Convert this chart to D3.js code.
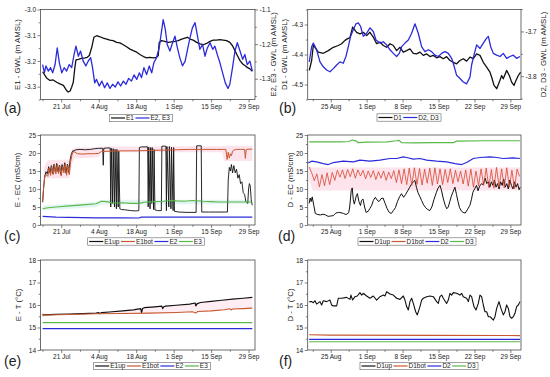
<!DOCTYPE html>
<html><head><meta charset="utf-8">
<script src="https://cdn.jsdelivr.net/npm/d3@7"></script>
<style>
body{margin:0;background:#fff}
svg text{font-family:"Liberation Sans",Arial,sans-serif;fill:#222}
</style></head>
<body><svg id="c" width="550" height="377"></svg>
<script>
// ---------------- DATA ----------------
// E panels: day offset from 14 Jul; D panels: day offset from 25 Aug
const eTickDays = [7,21,35,49,63,77];
const eTickLabels = ["21 Jul","4 Aug","18 Aug","1 Sep","15 Sep","29 Sep"];
const dTickDays = [0,7,14,21,28,35];
const dTickLabels = ["25 Aug","1 Sep","8 Sep","15 Sep","22 Sep","29 Sep"];

// (a) GWL
const gwlE1 = [[0.05,-3.242],[1.5,-3.266],[2.8,-3.276],[4.0,-3.274],[5.3,-3.283],[6.5,-3.289],[7.8,-3.295],[8.4,-3.305],[9.0,-3.315],[9.6,-3.321],[10.3,-3.317],[10.9,-3.302],[11.5,-3.283],[12.1,-3.225],[12.5,-3.196],[13.4,-3.194],[14.6,-3.19],[15.9,-3.188],[16.7,-3.186],[17.5,-3.179],[18.4,-3.147],[19.2,-3.108],[20.2,-3.102],[21.5,-3.106],[22.7,-3.111],[24.0,-3.115],[25.2,-3.119],[26.4,-3.121],[27.7,-3.128],[28.9,-3.13],[30.2,-3.137],[31.4,-3.145],[32.7,-3.154],[33.9,-3.16],[35.2,-3.166],[36.4,-3.175],[37.7,-3.183],[38.9,-3.188],[40.1,-3.186],[41.4,-3.188],[42.6,-3.186],[43.25,-3.179],[43.6,-3.128],[44.5,-3.121],[45.7,-3.124],[47.0,-3.128],[48.2,-3.126],[49.5,-3.124],[50.7,-3.121],[52.0,-3.115],[53.2,-3.111],[54.1,-3.108],[55.1,-3.115],[56.3,-3.119],[57.6,-3.128],[58.8,-3.134],[60.1,-3.137],[61.3,-3.132],[62.6,-3.124],[63.8,-3.119],[65.0,-3.119],[66.3,-3.117],[67.5,-3.119],[68.8,-3.121],[70.0,-3.128],[71.0,-3.141],[71.9,-3.16],[72.8,-3.179],[73.8,-3.199],[74.8,-3.212],[75.6,-3.218],[76.5,-3.225],[77.5,-3.231],[78.4,-3.24]];
const gwlE23 = [[0.05,-1.259],[0.7,-1.283],[1.3,-1.263],[2.2,-1.278],[3.0,-1.268],[3.8,-1.283],[4.7,-1.259],[5.5,-1.211],[6.3,-1.254],[7.2,-1.283],[8.1,-1.268],[9.0,-1.278],[10.0,-1.259],[10.9,-1.268],[11.8,-1.23],[12.5,-1.206],[13.4,-1.235],[14.2,-1.22],[15.2,-1.249],[16.2,-1.263],[17.1,-1.249],[18.0,-1.239],[18.7,-1.268],[19.5,-1.312],[20.2,-1.302],[21.2,-1.321],[22.2,-1.307],[23.2,-1.326],[24.2,-1.312],[25.2,-1.328],[26.2,-1.316],[27.2,-1.324],[28.2,-1.309],[29.2,-1.321],[30.2,-1.307],[31.2,-1.316],[32.2,-1.299],[33.2,-1.307],[34.2,-1.289],[35.2,-1.302],[36.2,-1.283],[37.0,-1.297],[37.9,-1.268],[38.9,-1.288],[39.9,-1.263],[40.8,-1.283],[41.6,-1.254],[42.6,-1.239],[43.6,-1.211],[44.4,-1.167],[45.1,-1.129],[45.9,-1.158],[46.6,-1.201],[47.6,-1.22],[48.6,-1.196],[49.5,-1.177],[50.4,-1.211],[51.3,-1.239],[52.3,-1.263],[53.3,-1.249],[54.2,-1.215],[55.1,-1.182],[56.0,-1.153],[57.0,-1.138],[57.8,-1.172],[58.8,-1.215],[59.8,-1.201],[60.7,-1.235],[61.6,-1.211],[62.6,-1.196],[63.6,-1.215],[64.4,-1.206],[65.3,-1.23],[66.3,-1.254],[67.3,-1.283],[68.3,-1.312],[69.3,-1.328],[70.0,-1.316],[71.0,-1.268],[71.9,-1.22],[72.8,-1.196],[73.8,-1.22],[74.8,-1.244],[75.6,-1.23],[76.5,-1.259],[77.5,-1.249],[78.4,-1.278]];

// (b) GWL
const gwlD1 = [[-4.17,-4.453],[-3.71,-4.42],[-3.39,-4.37],[-3.06,-4.376],[-2.42,-4.392],[-1.44,-4.396],[-0.47,-4.387],[0.51,-4.376],[1.48,-4.37],[2.13,-4.364],[2.78,-4.353],[3.23,-4.348],[3.75,-4.344],[4.27,-4.309],[5.05,-4.326],[5.7,-4.331],[6.35,-4.326],[7.0,-4.337],[7.65,-4.326],[8.3,-4.342],[8.95,-4.364],[9.6,-4.359],[10.25,-4.37],[10.9,-4.376],[11.55,-4.364],[12.2,-4.37],[12.84,-4.387],[13.5,-4.376],[14.14,-4.392],[14.79,-4.387],[15.44,-4.381],[16.09,-4.396],[16.74,-4.398],[17.39,-4.392],[18.04,-4.403],[18.69,-4.398],[19.34,-4.407],[19.99,-4.403],[20.64,-4.411],[21.28,-4.407],[21.93,-4.414],[22.58,-4.407],[23.23,-4.42],[23.88,-4.426],[24.53,-4.431],[25.18,-4.42],[25.83,-4.414],[26.48,-4.422],[27.13,-4.409],[27.78,-4.414],[28.43,-4.398],[29.08,-4.403],[29.73,-4.426],[30.38,-4.442],[31.03,-4.459],[31.36,-4.476],[31.81,-4.503],[32.33,-4.514],[32.85,-4.492],[33.3,-4.47],[33.62,-4.481],[34.27,-4.453],[34.79,-4.47],[35.25,-4.492],[35.7,-4.503],[36.09,-4.487],[36.55,-4.47],[37.0,-4.459]];
const gwlD23 = [[-4.17,-3.768],[-3.71,-3.734],[-3.39,-3.726],[-2.74,-3.741],[-2.09,-3.768],[-1.44,-3.779],[-0.79,-3.786],[-0.14,-3.79],[0.51,-3.783],[1.16,-3.775],[1.81,-3.768],[2.45,-3.771],[2.97,-3.756],[3.43,-3.734],[3.88,-3.711],[4.4,-3.696],[4.92,-3.683],[5.38,-3.681],[5.83,-3.689],[6.35,-3.711],[7.0,-3.704],[7.65,-3.692],[8.3,-3.7],[8.82,-3.719],[9.6,-3.726],[10.25,-3.723],[10.9,-3.73],[11.55,-3.741],[12.2,-3.749],[12.84,-3.756],[13.36,-3.749],[13.82,-3.734],[14.47,-3.726],[15.12,-3.719],[15.77,-3.704],[16.42,-3.683],[17.06,-3.704],[17.71,-3.734],[18.36,-3.745],[19.01,-3.741],[19.66,-3.745],[20.31,-3.753],[20.96,-3.756],[21.61,-3.749],[22.26,-3.745],[22.91,-3.749],[23.56,-3.76],[24.08,-3.779],[24.53,-3.798],[25.18,-3.805],[25.83,-3.813],[26.48,-3.817],[27.13,-3.802],[27.45,-3.775],[27.91,-3.753],[28.43,-3.73],[29.08,-3.738],[29.73,-3.726],[30.38,-3.715],[30.71,-3.711],[31.16,-3.734],[31.68,-3.749],[32.33,-3.753],[32.99,-3.756],[33.62,-3.749],[34.27,-3.76],[34.92,-3.756],[35.57,-3.753],[36.22,-3.76],[36.87,-3.756]];

// (c) EC, E wells
const ecE1up = [[0.05,6.3],[0.4,10],[0.8,13.5],[1.3,14.8],[1.8,14.2],[2.3,16.2],[2.8,14.5],[3.3,16.5],[3.8,14.3],[4.3,16.9],[4.8,14.6],[5.3,17.1],[5.8,14.8],[6.3,16.6],[6.8,14.1],[7.3,16.8],[7.8,15],[8.3,17.3],[8.8,14.4],[9.3,16.9],[9.8,14.6],[10.3,18],[10.8,19.8],[11.3,20.6],[11.8,20.6],[12.5,20.9],[14,21.0],[16,20.9],[18,21.0],[19.5,21.2],[21,21.3],[22.5,21.3],[22.7,16.6],[22.9,21.3],[24,21.4],[25.3,21.4],[25.5,5.0],[25.7,21.3],[26.2,6.0],[26.4,21.2],[26.9,5.0],[27.1,21.0],[27.6,4.5],[27.8,21.0],[28.3,5.0],[28.5,20.5],[28.9,4.5],[29.5,4.3],[31,4.2],[33,4.0],[35,3.9],[36.0,4.0],[36.2,21.5],[37,21.7],[39.3,21.7],[39.5,5.0],[39.7,21.6],[40.2,4.5],[40.4,21.5],[40.8,6.0],[41.0,21.5],[41.5,4.3],[41.7,21.0],[42.0,4.2],[43,4.0],[44.4,4.0],[44.6,21.9],[45.5,21.9],[46.1,21.9],[46.3,4.0],[46.5,21.8],[47.2,5.0],[47.4,21.8],[48.0,4.5],[48.2,21.6],[48.8,4.0],[49.0,21.5],[49.3,3.8],[51,3.6],[54,3.5],[57.4,3.5],[57.6,22.0],[59.3,22.0],[59.5,3.6],[62,3.6],[66,3.6],[69.1,3.6],[69.4,12.5],[69.8,16.0],[70.2,15.0],[70.6,16.8],[71.0,14.5],[71.5,16.5],[72.0,14.5],[72.5,15.5],[73.0,13.0],[73.5,14.0],[74.0,11.5],[74.5,12.0],[75.0,9.0],[75.5,8.5],[76.0,6.5],[76.4,6.2],[76.7,6.0],[77.0,10.0],[77.3,11.5],[77.6,11.0],[78.0,7.0],[78.2,6.0],[78.4,5.5]];
const ecE1bot = [[0.05,6.6],[0.4,10.5],[0.8,13.2],[1.5,14],[2,13.5],[2.5,15.8],[3,13.8],[3.5,16.2],[4,14],[4.5,16.6],[5,14.2],[5.5,16.8],[6,14.3],[6.5,16.4],[7,13.6],[7.5,16.2],[8,14.5],[8.5,17],[9,13.8],[9.5,16.6],[10,14],[10.5,17.5],[11,19.5],[11.5,20.4],[12,20.3],[13,19.8],[15,19.7],[17,19.8],[19,19.8],[21,19.9],[22,20.4],[25,20.5],[30,20.6],[35,20.6],[40,20.7],[45,20.8],[50,20.9],[55,21.0],[60,21.0],[65,21.0],[68.5,21.0],[69,18.2],[69.4,20.2],[69.8,18.6],[70.2,19.8],[70.6,19.2],[71,20.5],[71.5,20.8],[72.5,21.0],[74,21.0],[75.5,21.0],[75.8,18.5],[76.1,21.0],[78.4,21.1]];
const ecE2 = [[0.05,2.4],[5,2.2],[10,2.1],[20,2.0],[30,2.0],[36,1.95],[37,2.2],[50,2.2],[60,2.2],[70,2.2],[78.4,2.2]];
const ecE3 = [[0.05,4.5],[2,4.8],[5,5.0],[10,5.3],[15,5.6],[20,5.9],[22,6.6],[24,6.5],[26,6.2],[28,6.1],[30,6.2],[33,6.0],[36,6.0],[38,6.3],[42,6.5],[45,6.6],[48,6.8],[50,6.7],[53,6.6],[56,6.8],[60,6.6],[63,6.5],[66,6.4],[70,6.4],[74,6.4],[78.4,6.4]];
const bandE1bot = [[0.5,12.5,16],[2,13,18],[10,13,18.2],[11,17,21],[12,18.5,21.5],[21,18.8,21.6],[22,20.2,21.8],[67,20.2,21.9],[68,17.8,22],[78.4,17.8,22]];
const bandE3 = [[0.05,4.0,5.4],[20,5.0,6.4],[22,5.6,7.0],[78.4,5.8,7.0]];

// (d) EC, D wells
const ecD1up = [[-4.2,6.0],[-4.0,7.5],[-3.8,6.5],[-3.6,7.8],[-3.3,5.5],[-3.0,3.2],[-2.5,2.9],[-2,2.8],[-1.5,3.0],[-1,2.8],[-0.5,2.4],[0,2.5],[0.5,2.6],[1,3.3],[1.5,3.5],[2,3.4],[2.5,3.2],[3,2.9],[3.5,3.4],[3.7,5],[4.0,9.5],[4.2,10.3],[4.4,7],[4.6,5.8],[5.0,8.2],[5.2,8.7],[5.5,6.5],[5.8,5.4],[6.0,6.8],[6.3,7.2],[6.6,5.0],[6.9,3.5],[7.3,3.8],[7.6,4.5],[8.0,5.5],[8.3,6.8],[8.7,7.7],[9.0,7.0],[9.4,6.5],[9.8,7.3],[10.2,7.5],[10.6,6.0],[11.0,4.5],[11.4,3.5],[11.8,3.2],[12.2,4.0],[12.6,4.8],[13.0,6.5],[13.4,7.8],[13.8,8.7],[14.2,7.7],[14.6,8.5],[15.0,9.5],[15.4,10.5],[15.8,11.5],[16.1,12.0],[16.4,12.4],[16.7,10.5],[17.0,9.0],[17.4,7.8],[17.7,6.8],[18.1,5.6],[18.5,4.8],[18.9,4.3],[19.3,4.0],[19.7,5.0],[20.1,7.0],[20.6,9.1],[20.9,10.2],[21.3,11.0],[21.6,9.5],[21.9,7.5],[22.3,5.5],[22.6,4.5],[22.9,5.0],[23.2,6.5],[23.5,8.0],[23.8,9.1],[24.2,10.5],[24.5,8.5],[24.8,6.5],[25.1,4.8],[25.5,3.8],[25.8,3.5],[26.2,3.3],[26.6,4.2],[27.1,5.4],[27.4,7.0],[27.7,9.1],[28.1,10.2],[28.4,11.0],[28.7,9.5],[29.0,10.8],[29.4,11.5],[29.7,11.2],[30.1,13.0],[30.4,11.5],[30.7,12.0],[31.0,10.5],[31.3,12.0],[31.6,11.0],[31.9,12.5],[32.2,10.5],[32.5,11.5],[32.8,10.0],[33.1,12.0],[33.4,11.0],[33.7,12.8],[34.0,10.5],[34.3,11.5],[34.6,10.0],[34.9,12.5],[35.2,11.0],[35.5,10.0],[35.8,12.0],[36.1,10.5],[36.4,11.5],[36.7,9.8],[36.9,10.5]];
const ecD1bot = [[-4.2,16.1],[-3.7,14.5],[-3.2,12.3],[-2.7,14.2],[-2.2,10.6],[-1.7,14.0],[-1.2,10.9],[-0.7,14.5],[-0.2,11.2],[0.3,14.6],[0.8,12.4],[1.3,15.2],[1.8,13.3],[2.3,15.3],[2.8,12.9],[3.3,15.4],[3.8,13.4],[4.3,15.6],[4.8,13.0],[5.3,15.3],[5.8,13.6],[6.3,15.2],[6.8,12.8],[7.3,15.0],[7.8,13.2],[8.3,15.1],[8.8,12.6],[9.3,14.8],[9.8,13.0],[10.3,15.0],[10.8,12.4],[11.3,14.7],[11.8,12.9],[12.3,15.1],[12.8,11.8],[13.3,15.3],[13.8,11.5],[14.3,15.6],[14.8,11.2],[15.3,15.8],[15.8,11.0],[16.3,15.9],[16.8,11.3],[17.3,15.7],[17.8,11.1],[18.3,15.5],[18.8,11.6],[19.3,15.8],[19.8,11.0],[20.3,15.9],[20.8,11.4],[21.3,15.6],[21.8,11.2],[22.3,15.4],[22.8,11.8],[23.3,15.6],[23.8,11.5],[24.3,15.2],[24.8,12.0],[25.3,15.0],[25.8,11.4],[26.3,15.3],[26.8,10.8],[27.3,15.5],[27.8,10.5],[28.3,15.0],[28.8,10.9],[29.3,15.6],[29.8,11.0],[30.3,15.8],[30.8,10.4],[31.3,15.4],[31.8,10.2],[32.3,16.0],[32.8,10.6],[33.3,15.6],[33.8,10.3],[34.3,15.9],[34.8,10.5],[35.3,15.2],[35.8,10.1],[36.3,15.5],[36.8,13.5]];
const ecD2 = [[-4.36,17.26],[-3.71,17.72],[-2.74,17.54],[-1.44,17.07],[-0.47,16.79],[0.51,17.35],[2.45,17.72],[4.4,17.54],[5.7,18.0],[7.65,17.72],[9.6,18.0],[11.55,18.47],[12.84,18.47],[14.14,18.94],[14.79,18.75],[16.09,18.28],[17.39,18.47],[18.69,18.0],[20.64,17.72],[22.58,17.54],[24.21,17.07],[25.51,16.79],[26.48,17.35],[27.78,18.47],[29.08,18.75],[31.03,18.94],[32.33,18.75],[33.62,18.47],[35.57,18.66],[36.87,18.47]];
const ecD3 = [[-4.2,23.1],[2,23.1],[3.5,23.2],[4.2,23.6],[5.0,23.3],[5.3,22.9],[7,23.0],[11,23.1],[12.8,23.4],[13.3,23.5],[13.8,22.9],[16,22.8],[20,22.9],[24,22.9],[24.5,23.3],[30,23.4],[36.9,23.4]];
const bandD1bot = [[-4.2,12.5,16.3],[-3.5,9.6,16.0],[36.9,9.6,16.0]];

// (e) temperature, E wells
const tE1up = [[0.05,15.56],[5,15.58],[10,15.6],[15,15.62],[20,15.64],[21,15.66],[21.4,15.62],[22,15.66],[25,15.69],[30,15.74],[34,15.78],[36.7,15.84],[37.0,15.66],[37.4,15.84],[38,15.88],[42,15.92],[44.6,15.95],[44.9,15.84],[45.3,15.92],[46,15.95],[50,15.99],[55,16.04],[57.0,16.09],[57.3,15.96],[57.7,16.05],[59,16.11],[63,16.16],[67,16.21],[71,16.26],[75,16.3],[78.4,16.34]];
const tE1bot = [[0.05,15.62],[0.3,15.52],[0.6,15.55],[5,15.57],[10,15.58],[20,15.61],[30,15.62],[40,15.64],[50,15.67],[56,15.7],[57.3,15.64],[58,15.71],[63,15.74],[68,15.79],[70,15.83],[70.5,15.78],[71,15.82],[75,15.84],[78.4,15.86]];
const tE2 = [[0.05,14.95],[78.4,14.95]];
const tE3 = [[0.05,15.22],[78.4,15.22]];
const bandTE = [[0.3,15.53,15.56],[20,15.6,15.65],[40,15.64,15.9],[60,15.72,16.12],[78.4,15.86,16.34]];

// (f) temperature, D wells
const tD1up = [[-4.17,16.15],[-3.71,16.15],[-3.39,16.1],[-3.06,16.19],[-2.74,16.04],[-2.09,16.15],[-1.77,16.0],[-1.44,16.19],[-0.79,16.15],[-0.14,16.22],[0.18,16.0],[0.51,15.96],[1.16,15.96],[1.48,16.3],[2.13,16.3],[3.1,16.34],[3.75,16.25],[3.95,16.44],[4.27,16.22],[4.73,16.37],[5.18,16.4],[5.7,16.55],[6.03,16.44],[6.35,16.52],[7.0,16.4],[7.65,16.3],[8.3,16.4],[8.95,16.22],[9.6,16.37],[10.25,16.44],[10.57,16.4],[10.9,16.59],[11.55,16.49],[12.2,16.44],[12.84,16.3],[13.49,16.25],[14.14,16.4],[14.47,16.22],[14.79,15.93],[15.12,15.78],[15.44,16.15],[15.77,16.3],[16.09,16.07],[16.55,15.7],[16.87,15.56],[17.39,15.93],[17.71,16.22],[18.04,16.3],[18.69,16.37],[19.34,16.4],[19.99,16.37],[20.64,16.15],[20.96,16.07],[21.28,16.37],[21.61,16.44],[21.93,16.3],[22.58,16.07],[22.91,16.22],[23.23,16.52],[23.56,16.44],[23.88,16.55],[24.53,16.52],[25.18,16.44],[25.51,16.52],[25.83,16.37],[26.48,16.3],[26.81,16.15],[27.13,16.44],[27.45,16.37],[27.91,15.93],[28.3,15.78],[28.75,16.07],[29.08,16.44],[29.4,16.37],[29.73,16.0],[30.05,15.7],[30.38,15.7],[30.71,15.48],[31.03,15.48],[31.36,15.41],[31.68,15.33],[32.0,15.48],[32.33,15.85],[32.78,16.15],[33.17,15.85],[33.62,15.56],[33.95,15.7],[34.27,16.0],[34.6,15.85],[34.92,15.48],[35.25,15.41],[35.57,15.48],[35.9,15.63],[36.22,15.93],[36.55,16.0],[36.87,16.15]];
const tD1bot = [[-4.2,14.68],[0,14.66],[20,14.65],[36.9,14.64]];
const tD2 = [[-4.2,14.47],[36.9,14.47]];
const tD3 = [[-4.2,14.37],[36.9,14.37]];

// ---------------- DRAWING ----------------
const svg = d3.select("#c");
const eStart = Date.UTC(2019,6,14), dStart = Date.UTC(2019,7,25);
const eT = d => new Date(eStart + d*864e5);
const dT = d => new Date(dStart + d*864e5);
const C = {k:"#111", b:"#2b2bdc", br:"#c8582f", g:"#58b848", pink:"#fde3ec", cyan:"#e3f5f3", ax:"#4a4a4a"};

const xE = d3.scaleUtc().domain([eT(-0.75), eT(79.4)]).range([40.5, 255]);
const xD = d3.scaleUtc().domain([dT(-4.48), dT(37.07)]).range([307.7, 521]);

let clipId = 0;
function makePanel(x, t, y0, y1) {
  const [xa, xb] = x.range();
  const id = "clip" + (clipId++);
  svg.append("clipPath").attr("id", id).append("rect")
    .attr("x", xa).attr("y", y0).attr("width", xb - xa).attr("height", y1 - y0);
  const g = svg.append("g").attr("clip-path", `url(#${id})`);
  return {g, xa, xb, y0, y1, x, t};
}
function frame(p) {
  svg.append("rect").attr("x", p.xa).attr("y", p.y0).attr("width", p.xb - p.xa).attr("height", p.y1 - p.y0)
    .attr("fill", "none").attr("stroke", C.ax).attr("stroke-width", 0.8);
}
function styleAxis(g) {
  g.select(".domain").remove();
  g.selectAll("line").attr("stroke", C.ax).attr("stroke-width", 0.7);
  g.selectAll("text").attr("font-size", "6.5px").attr("fill", "#222")
    .style("font-family", '"Liberation Sans",Arial,sans-serif');
}
function xAxis(p, tickDays, labels, minorDays) {
  const ax = d3.axisBottom(p.x).tickValues(tickDays.map(p.t)).tickSize(3).tickPadding(1.5)
    .tickFormat((d, i) => labels[i]);
  styleAxis(svg.append("g").attr("transform", `translate(0,${p.y1})`).call(ax));
  const mi = d3.axisBottom(p.x).tickValues(minorDays.map(p.t)).tickSize(1.8).tickFormat("");
  styleAxis(svg.append("g").attr("transform", `translate(0,${p.y1})`).call(mi));
}
function yAxis(y, xpos, side, ticks, minor, fmt) {
  const mk = side === "left" ? d3.axisLeft : d3.axisRight;
  const ax = mk(y).tickValues(ticks).tickSize(3).tickPadding(1.5).tickFormat(fmt);
  styleAxis(svg.append("g").attr("transform", `translate(${xpos},0)`).call(ax));
  if (minor) {
    const mi = mk(y).tickValues(minor).tickSize(1.8).tickFormat("");
    styleAxis(svg.append("g").attr("transform", `translate(${xpos},0)`).call(mi));
  }
}
function line(p, y, data, color, w) {
  const gen = d3.line().x(d => p.x(p.t(d[0]))).y(d => y(d[1]));
  p.g.append("path").datum(data).attr("d", gen).attr("fill", "none")
    .attr("stroke", color).attr("stroke-width", w).attr("stroke-linejoin", "round");
}
function band(p, y, data, color) {
  const gen = d3.area().x(d => p.x(p.t(d[0]))).y0(d => y(d[1])).y1(d => y(d[2]));
  p.g.append("path").datum(data).attr("d", gen).attr("fill", color).attr("stroke", "none");
}
function yTitle(x, yc, txt) {
  svg.append("text").attr("transform", `translate(${x},${yc}) rotate(-90)`)
    .attr("text-anchor", "middle").attr("dy", "0.35em").attr("font-size", "7.8px").attr("fill", "#333").text(txt);
}
function panelLabel(x, y, txt) {
  svg.append("text").attr("x", x).attr("y", y).attr("font-size", "14px").attr("fill", "#111").text(txt);
}
function legend(cx, cy, items) {
  const g = svg.append("g");
  let x = 0; const pad = 1.5, len = 14;
  items.forEach(it => {
    g.append("line").attr("x1", x + pad).attr("x2", x + pad + len).attr("y1", 0).attr("y2", 0)
      .attr("stroke", it[1]).attr("stroke-width", 1.2);
    const t = g.append("text").attr("x", x + pad + len + 1).attr("y", 0).attr("dy", "0.35em")
      .attr("font-size", "6.5px").attr("fill", "#222").text(it[0]);
    x = x + pad + len + 1 + t.node().getComputedTextLength();
  });
  x += pad + 1;
  g.insert("rect", ":first-child").attr("x", 0).attr("y", -3.7).attr("width", x).attr("height", 7.4)
    .attr("fill", "#fff").attr("stroke", "#666").attr("stroke-width", 0.6);
  g.attr("transform", `translate(${cx - x / 2},${cy})`);
}
const f1 = d => d.toFixed(1);
const f0 = d => d3.format("d")(d);
const eMinor = [0,14,28,42,56,70], dMinor = [-3.5,3.5,10.5,17.5,24.5,31.5];

// ---- (a)
{
  const p = makePanel(xE, eT, 9.5, 99.5);
  const yL = d3.scaleLinear().domain([-3.35, -3.0]).range([99.5, 9.5]);
  const yR = d3.scaleLinear().domain([-1.36, -1.1]).range([99.5, 9.5]);
  line(p, yL, gwlE1, C.k, 1.3);
  line(p, yR, gwlE23, C.b, 1.3);
  frame(p);
  xAxis(p, eTickDays, eTickLabels, eMinor);
  yAxis(yL, p.xa, "left", [-3.3,-3.2,-3.1,-3.0], [-3.35,-3.25,-3.15,-3.05], f1);
  yAxis(yR, p.xb, "right", [-1.3,-1.2,-1.1], [-1.35,-1.25,-1.15], f1);
  yTitle(17, 54.5, "E1 - GWL (m AMSL)");
  yTitle(273, 54.5, "E2, E3 - GWL (m AMSL)");
  legend(141, 118, [["E1", C.k], ["E2, E3", C.b]]);
  panelLabel(4, 113, "(a)");
}
// ---- (b)
{
  const p = makePanel(xD, dT, 9.5, 99.5);
  const yL = d3.scaleLinear().domain([-4.55, -4.25]).range([99.5, 9.5]);
  const yR = d3.scaleLinear().domain([-3.852, -3.651]).range([99.5, 9.5]);
  line(p, yL, gwlD1, C.k, 1.3);
  line(p, yR, gwlD23, C.b, 1.3);
  frame(p);
  xAxis(p, dTickDays, dTickLabels, dMinor);
  yAxis(yL, p.xa, "left", [-4.5,-4.4,-4.3], [-4.55,-4.45,-4.35,-4.25], f1);
  yAxis(yR, p.xb, "right", [-3.8,-3.7], [-3.85,-3.75,-3.65], f1);
  yTitle(284, 54.5, "D1 - GWL (m AMSL)");
  yTitle(543, 54.5, "D2, D3 - GWL (m AMSL)");
  legend(409, 117.5, [["D1", C.k], ["D2, D3", C.b]]);
  panelLabel(279, 113, "(b)");
}
// ---- (c)
{
  const p = makePanel(xE, eT, 135, 225);
  const y = d3.scaleLinear().domain([0, 25]).range([225, 135]);
  band(p, y, bandE1bot, C.pink);
  band(p, y, bandE3, C.cyan);
  line(p, y, ecE1up, C.k, 0.9);
  line(p, y, ecE1bot, C.br, 1.0);
  line(p, y, ecE2, C.b, 1.2);
  line(p, y, ecE3, C.g, 1.1);
  frame(p);
  xAxis(p, eTickDays, eTickLabels, eMinor);
  yAxis(y, p.xa, "left", [0,5,10,15,20,25], [2.5,7.5,12.5,17.5,22.5], f0);
  yTitle(17, 180, "E - EC (mS/cm)");
  legend(146, 241.5, [["E1up", C.k], ["E1bot", C.br], ["E2", C.b], ["E3", C.g]]);
  panelLabel(4, 241, "(c)");
}
// ---- (d)
{
  const p = makePanel(xD, dT, 135, 225);
  const y = d3.scaleLinear().domain([0, 25]).range([225, 135]);
  band(p, y, bandD1bot, C.pink);
  line(p, y, ecD1up, C.k, 1.0);
  line(p, y, ecD1bot, "#d8452e", 0.8);
  line(p, y, ecD2, C.b, 1.2);
  line(p, y, ecD3, C.g, 1.2);
  frame(p);
  xAxis(p, dTickDays, dTickLabels, dMinor);
  yAxis(y, p.xa, "left", [0,5,10,15,20,25], [2.5,7.5,12.5,17.5,22.5], f0);
  yTitle(290, 180, "D - EC (mS/cm)");
  legend(417, 241.5, [["D1up", C.k], ["D1bot", C.br], ["D2", C.b], ["D3", C.g]]);
  panelLabel(278, 241, "(d)");
}
// ---- (e)
{
  const p = makePanel(xE, eT, 260, 350);
  const y = d3.scaleLinear().domain([14, 18]).range([350, 260]);
  band(p, y, bandTE, "#feeef3");
  line(p, y, tE1up, C.k, 1.2);
  line(p, y, tE1bot, C.br, 1.1);
  line(p, y, tE2, C.b, 1.3);
  line(p, y, tE3, C.g, 1.2);
  frame(p);
  xAxis(p, eTickDays, eTickLabels, eMinor);
  yAxis(y, p.xa, "left", [14,15,16,17,18], [14.5,15.5,16.5,17.5], f0);
  yTitle(18, 305, "E - T (°C)");
  legend(152, 366, [["E1up", C.k], ["E1bot", C.br], ["E2", C.b], ["E3", C.g]]);
  panelLabel(4, 366, "(e)");
}
// ---- (f)
{
  const p = makePanel(xD, dT, 260, 350);
  const y = d3.scaleLinear().domain([14, 18]).range([350, 260]);
  line(p, y, tD1up, C.k, 1.1);
  line(p, y, tD1bot, C.br, 1.1);
  line(p, y, tD2, C.b, 1.3);
  line(p, y, tD3, C.g, 1.1);
  frame(p);
  xAxis(p, dTickDays, dTickLabels, dMinor);
  yAxis(y, p.xa, "left", [14,15,16,17,18], [14.5,15.5,16.5,17.5], f0);
  yTitle(290, 305, "D - T (°C)");
  legend(419, 366, [["D1up", C.k], ["D1bot", C.br], ["D2", C.b], ["D3", C.g]]);
  panelLabel(279, 366, "(f)");
}
</script></body></html>
